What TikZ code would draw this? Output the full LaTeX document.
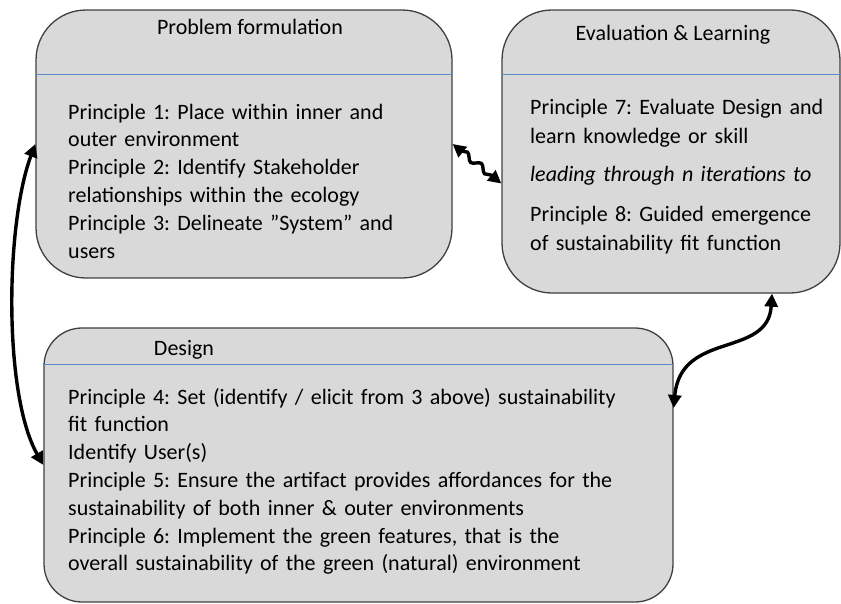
\documentclass[tikz,border=0pt]{standalone}
\usepackage{fontspec}
\setmainfont{Carlito}
\frenchspacing
\usetikzlibrary{arrows.meta,decorations.pathmorphing}

\definecolor{boxfill}{HTML}{D9D9D9}
\definecolor{boxline}{HTML}{404040}
\definecolor{divline}{HTML}{5B8BC9}

\tikzset{
  stage/.style={draw=boxline,fill=boxfill,line width=1.3pt,rounded corners=50pt,inner sep=0pt},
  head/.style={anchor=base,inner sep=0pt,font=\fontsize{22}{27.8}\selectfont},
  body/.style={anchor=base west,inner sep=0pt,align=left,text width=#1,font=\fontsize{22}{27.8}\selectfont},
  divider/.style={draw=divline,line width=1pt},
  link/.style={line width=3.4pt,{Triangle[length=13pt,width=13pt]}-{Triangle[length=13pt,width=13pt]}},
}

\begin{document}
\begin{tikzpicture}[x=1pt,y=-1pt]
  \useasboundingbox (0,0) rectangle (841,603);

  % the three stages
  \node[stage,minimum width=416pt,minimum height=268pt] (pf) at (244,144) {};
  \node[stage,minimum width=338pt,minimum height=283pt] (el) at (671,151.5) {};
  \node[stage,rounded corners=38pt,minimum width=629pt,minimum height=274pt] (ds) at (358.5,465) {};

  \draw[divider] ([yshift=-65pt]pf.north west) -- ([yshift=-65pt]pf.north east);
  \draw[divider] ([yshift=-65pt]el.north west) -- ([yshift=-65pt]el.north east);
  \draw[divider] ([yshift=-37pt]ds.north west) -- ([yshift=-37pt]ds.north east);

  % headings
  \node[head] (pfhead) at (250,34) {Problem formulation};
  \node[head] (elhead) at (673,40) {Evaluation \& Learning};
  \node[head] (dshead) at (184,355) {Design};

  % principles
  \node[body=380pt] (pftext) at (68,119) {Principle 1: Place within inner and\\
    outer environment\\
    Principle 2: Identify Stakeholder\\
    relationships within the ecology\\
    Principle 3: Delineate ”System” and\\
    users};
  \node[body=310pt,font=\fontsize{22}{29}\selectfont] (eltext) at (530,114) {Principle 7: Evaluate Design and\\
    learn knowledge or skill\\[9pt]
    \textit{leading through n iterations to}\\[11pt]
    Principle 8: Guided emergence\\
    of sustainability fit function};
  \node[body=600pt] (dstext) at (68,404) {Principle 4: Set (identify / elicit from 3 above) sustainability\\
    fit function\\
    Identify User(s)\\
    Principle 5: Ensure the artifact provides affordances for the\\
    sustainability of both inner \& outer environments\\
    Principle 6: Implement the green features, that is the\\
    overall sustainability of the green (natural) environment};

  % links between stages
  \draw[link] (pf.west) .. controls +(-30,80) and +(-40,-70) .. (ds.west);
  \draw[link,decorate,decoration={snake,amplitude=3pt,segment length=18pt,pre length=11pt,post length=11pt}]
    (pf.east) -- ([yshift=-32pt]el.west);
  \draw[link] ([xshift=101pt]el.south) .. controls +(-4,65) and +(7,-78) .. ([yshift=57pt]ds.east);
\end{tikzpicture}
\end{document}
